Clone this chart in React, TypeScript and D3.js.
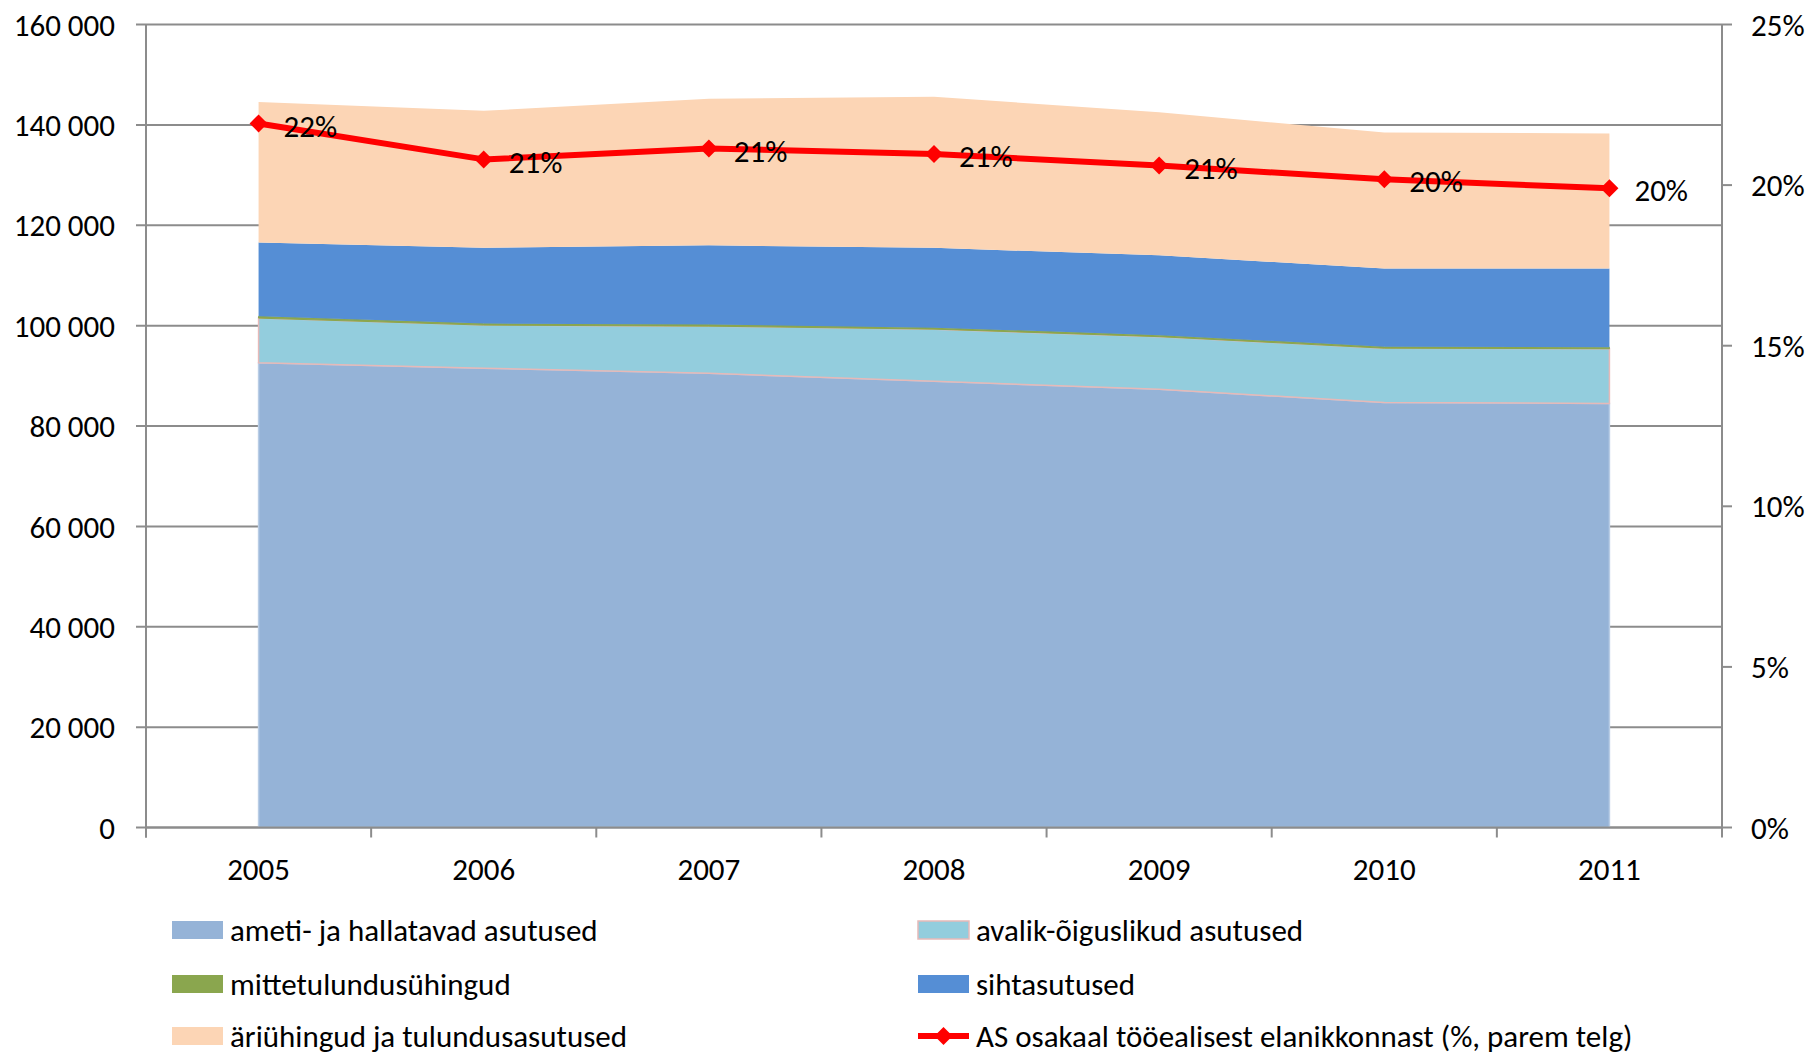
import React, { useEffect } from "react";
import * as d3 from "d3";

const years = ["2005", "2006", "2007", "2008", "2009", "2010", "2011"];

// stacked series, bottom to top
const ametiHallatavad = [92600, 91500, 90500, 88900, 87300, 84700, 84500];
const avalikOiguslikud = [8900, 8600, 9400, 10400, 10500, 10800, 10900];
const mittetulundus = [350, 300, 300, 300, 300, 300, 300];
const sihtasutused = [14700, 15100, 15800, 15900, 15900, 15600, 15700];
const ariyhingud = [28000, 27300, 29200, 30100, 28500, 27100, 26900];

// right axis line
const asOsakaal = [21.92, 20.8, 21.14, 20.97, 20.61, 20.18, 19.9];
const asLabels = ["22%", "21%", "21%", "21%", "21%", "20%", "20%"];

const leftTicks = [0, 20000, 40000, 60000, 80000, 100000, 120000, 140000, 160000];
const rightTicks = [0, 5, 10, 15, 20, 25];

const seriesNames = [
  "ameti- ja hallatavad asutused",
  "avalik-õiguslikud asutused",
  "mittetulundusühingud",
  "sihtasutused",
  "äriühingud ja tulundusasutused",
];
const lineName = "AS osakaal tööealisest elanikkonnast (%, parem telg)";

const fills = ["#95B3D7", "#93CDDD", "#8AA64E", "#558ED5", "#FCD5B5"];
const strokes = ["#B9CDE5", "#E6B9B8", "#8AA64E", "none", "none"];

const W = 1812;
const H = 1057;
const FONT = "Carlito, Lato, 'Open Sans', sans-serif";
const FS = 31;

export default function App() {
  useEffect(() => {
    document.body.style.margin = "0";
  }, []);

  const left = 146;
  const right = 1722;
  const top = 24.5;
  const bottom = 827.5;

  const band = d3.scaleBand<string>().domain(years).range([left, right]);
  const xc = (i: number) => (band(years[i]) as number) + band.bandwidth() / 2;
  const y = d3.scaleLinear().domain([0, 160000]).range([bottom, top]);
  const y2 = d3.scaleLinear().domain([0, 25]).range([bottom, top]);

  const table = years.map((yr, i) => ({
    i,
    s0: ametiHallatavad[i],
    s1: avalikOiguslikud[i],
    s2: mittetulundus[i],
    s3: sihtasutused[i],
    s4: ariyhingud[i],
  }));
  const stacked = d3.stack<any>().keys(["s0", "s1", "s2", "s3", "s4"])(table);

  const area = d3
    .area<any>()
    .x((d) => xc(d.data.i))
    .y0((d) => y(d[0]))
    .y1((d) => y(d[1]));

  const line = d3
    .line<number>()
    .x((_, i) => xc(i))
    .y((d) => y2(d));

  const grid = "#8C8C8C";
  const fmt = (v: number) => d3.format(",")(v).replace(/,/g, " ");
  const diamond = (cx: number, cy: number, r: number) =>
    `M${cx},${cy - r}L${cx + r},${cy}L${cx},${cy + r}L${cx - r},${cy}Z`;

  const legendItems = [
    { k: 0, col: 0, row: 0 },
    { k: 1, col: 1, row: 0 },
    { k: 2, col: 0, row: 1 },
    { k: 3, col: 1, row: 1 },
    { k: 4, col: 0, row: 2 },
  ];
  const colX = [172, 918];
  const rowY = [930, 984, 1036];

  return (
    <svg width={W} height={H} style={{ display: "block", fontFamily: FONT }}>
      <rect width={W} height={H} fill="#fff" />
      {/* gridlines */}
      {leftTicks.map((t) => (
        <line key={t} x1={left - 10} x2={right} y1={y(t)} y2={y(t)} stroke={grid} strokeWidth={2} />
      ))}
      {/* areas */}
      {stacked.map((s, k) => (
        <path
          key={k}
          d={area(s) as string}
          fill={fills[k]}
          stroke={strokes[k]}
          strokeWidth={k === 2 ? 1 : 1.5}
        />
      ))}
      {/* axes */}
      <line x1={left} x2={left} y1={top} y2={bottom + 10} stroke={grid} strokeWidth={2} />
      <line x1={right} x2={right} y1={top} y2={bottom + 10} stroke={grid} strokeWidth={2} />
      <line x1={left} x2={right} y1={bottom} y2={bottom} stroke={grid} strokeWidth={2} />
      {years.map((yr) => (
        <line
          key={yr}
          x1={band(yr)}
          x2={band(yr)}
          y1={bottom}
          y2={bottom + 10}
          stroke={grid}
          strokeWidth={2}
        />
      ))}
      {rightTicks.map((t) => (
        <line key={t} x1={right} x2={right + 10} y1={y2(t)} y2={y2(t)} stroke={grid} strokeWidth={2} />
      ))}
      {/* left tick labels */}
      {leftTicks.map((t) => (
        <text key={t} x={115} y={y(t)} dy="0.36em" textAnchor="end" fontSize={FS} fill="#000">
          {fmt(t)}
        </text>
      ))}
      {/* right tick labels */}
      {rightTicks.map((t) => (
        <text key={t} x={1751} y={y2(t)} dy="0.36em" textAnchor="start" fontSize={FS} fill="#000">
          {t}%
        </text>
      ))}
      {/* x labels */}
      {years.map((yr, i) => (
        <text key={yr} x={xc(i)} y={869} dy="0.36em" textAnchor="middle" fontSize={FS} fill="#000">
          {yr}
        </text>
      ))}
      {/* line series */}
      <path d={line(asOsakaal) as string} fill="none" stroke="#FF0000" strokeWidth={6} strokeLinejoin="round" />
      {asOsakaal.map((v, i) => (
        <path key={i} d={diamond(xc(i), y2(v), 9)} fill="#FF0000" />
      ))}
      {asOsakaal.map((v, i) => (
        <text key={i} x={xc(i) + 25} y={y2(v) + 2} dy="0.36em" fontSize={FS} fill="#000">
          {asLabels[i]}
        </text>
      ))}
      {/* legend */}
      {legendItems.map(({ k, col, row }) => (
        <g key={k}>
          <rect
            x={colX[col]}
            y={rowY[row] - 9}
            width={51}
            height={18}
            fill={fills[k]}
            stroke={k === 1 ? "#E6B9B8" : "none"}
            strokeWidth={1.5}
          />
          <text x={colX[col] + 58} y={rowY[row]} dy="0.36em" fontSize={FS} fill="#000">
            {seriesNames[k]}
          </text>
        </g>
      ))}
      <line x1={colX[1]} x2={colX[1] + 51} y1={rowY[2]} y2={rowY[2]} stroke="#FF0000" strokeWidth={6} />
      <path d={diamond(colX[1] + 25.5, rowY[2], 9)} fill="#FF0000" />
      <text x={colX[1] + 58} y={rowY[2]} dy="0.36em" fontSize={FS} fill="#000">
        {lineName}
      </text>
    </svg>
  );
}
